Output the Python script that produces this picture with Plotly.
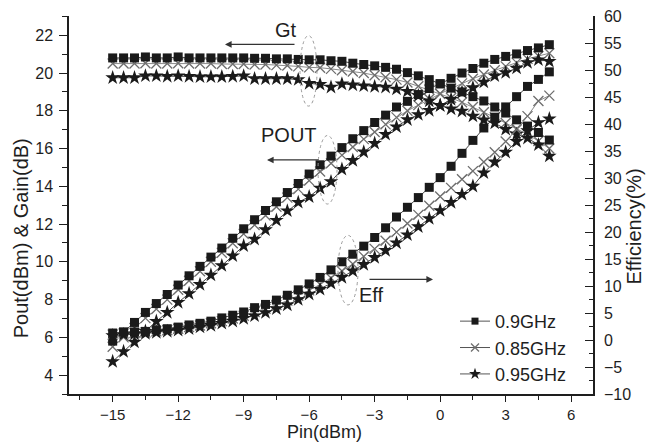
import plotly.graph_objects as go

# Input power sweep (dBm)
pin = [-15.0, -14.5, -14.0, -13.5, -13.0, -12.5, -12.0, -11.5, -11.0, -10.5,
       -10.0, -9.5, -9.0, -8.5, -8.0, -7.5, -7.0, -6.5, -6.0, -5.5,
       -5.0, -4.5, -4.0, -3.5, -3.0, -2.5, -2.0, -1.5, -1.0, -0.5,
       0.0, 0.5, 1.0, 1.5, 2.0, 2.5, 3.0, 3.5, 4.0, 4.5, 5.0]

# Transducer gain Gt (dB)
gt_090 = [20.80, 20.80, 20.80, 20.85, 20.80, 20.80, 20.85, 20.80, 20.80, 20.80,
          20.80, 20.80, 20.80, 20.78, 20.78, 20.75, 20.75, 20.72, 20.70, 20.70,
          20.65, 20.62, 20.52, 20.45, 20.38, 20.30, 20.20, 20.02, 19.85, 19.65,
          19.43, 19.20, 19.00, 18.75, 18.52, 18.20, 17.88, 17.52, 17.19, 16.85, 16.45]
gt_085 = [20.50, 20.50, 20.50, 20.52, 20.50, 20.50, 20.52, 20.50, 20.50, 20.50,
          20.48, 20.48, 20.48, 20.45, 20.45, 20.42, 20.40, 20.35, 20.30, 20.28,
          20.22, 20.15, 20.08, 20.00, 19.88, 19.78, 19.65, 19.50, 19.30, 19.12,
          18.90, 18.68, 18.45, 18.20, 17.92, 17.65, 17.35, 17.05, 16.75, 16.40, 16.00]
gt_095 = [19.75, 19.75, 19.75, 19.85, 19.85, 19.82, 19.85, 19.82, 19.80, 19.80,
          19.80, 19.82, 19.85, 19.70, 19.70, 19.70, 19.70, 19.65, 19.45, 19.40,
          19.25, 19.42, 19.37, 19.32, 19.28, 19.25, 19.15, 19.03, 18.80, 18.52,
          18.28, 18.10, 17.98, 17.72, 17.52, 17.35, 17.02, 16.76, 16.55, 16.20, 15.60]

# Output power POUT (dBm)
pout_090 = [5.80, 6.27, 6.79, 7.32, 7.79, 8.27, 8.77, 9.26, 9.76, 10.25,
            10.73, 11.25, 11.75, 12.23, 12.72, 13.18, 13.67, 14.15, 14.65, 15.14,
            15.60, 16.05, 16.52, 16.95, 17.38, 17.77, 18.20, 18.50, 18.86, 19.18,
            19.43, 19.72, 20.00, 20.24, 20.52, 20.72, 20.88, 21.01, 21.19, 21.33, 21.50]
pout_085 = [5.50, 6.00, 6.50, 7.02, 7.50, 8.00, 8.52, 9.00, 9.50, 10.00,
            10.48, 10.98, 11.48, 11.95, 12.45, 12.92, 13.40, 13.85, 14.30, 14.78,
            15.22, 15.65, 16.08, 16.50, 16.88, 17.28, 17.65, 18.00, 18.30, 18.62,
            18.90, 19.18, 19.45, 19.70, 19.92, 20.15, 20.35, 20.55, 20.75, 20.90, 21.05]
pout_095 = [4.72, 5.25, 5.75, 6.32, 6.85, 7.32, 7.85, 8.32, 8.80, 9.30,
            9.80, 10.32, 10.85, 11.20, 11.70, 12.20, 12.70, 13.15, 13.45, 13.90,
            14.25, 14.90, 15.37, 15.82, 16.28, 16.75, 17.15, 17.53, 17.80, 18.02,
            18.28, 18.60, 18.98, 19.22, 19.52, 19.85, 20.02, 20.26, 20.55, 20.70, 20.62]

# Drain efficiency (%)
eff_090 = [1.3, 1.5, 1.5, 1.6, 1.9, 2.1, 2.4, 2.8, 3.1, 3.5,
           4.1, 4.6, 5.2, 6.0, 6.6, 7.4, 8.3, 9.3, 10.4, 11.6,
           13.0, 14.5, 15.9, 17.4, 19.0, 20.8, 22.8, 24.6, 26.4, 28.3,
           30.1, 32.2, 34.6, 37.0, 39.3, 41.3, 43.2, 45.1, 47.0, 48.3, 49.7]
eff_085 = [1.0, 1.2, 1.3, 1.4, 1.6, 1.8, 2.1, 2.4, 2.7, 3.1,
           3.5, 4.0, 4.5, 5.2, 5.8, 6.5, 7.3, 8.2, 9.2, 10.3,
           11.5, 12.8, 14.1, 15.5, 16.9, 18.4, 20.0, 21.6, 23.2, 24.9,
           26.6, 28.2, 29.8, 31.3, 33.0, 34.8, 36.8, 39.0, 41.5, 44.3, 45.3]
eff_095 = [0.8, 1.0, 1.1, 1.2, 1.4, 1.6, 1.8, 2.1, 2.4, 2.7,
           3.1, 3.5, 4.0, 4.5, 5.1, 5.8, 6.5, 7.5, 8.5, 9.4,
           10.5, 11.6, 12.8, 14.0, 15.3, 16.6, 18.0, 19.5, 21.0, 22.5,
           24.0, 25.5, 27.0, 28.5, 31.0, 33.0, 34.8, 36.8, 38.8, 40.3, 41.0]

series_names = ["0.9GHz", "0.85GHz", "0.95GHz"]

FONT = "Liberation Sans, Arial, sans-serif"
INK = "#1e1e1e"

# canvas / plot-area geometry in pixels
W, H = 657, 444
L, R, T, B = 69, 64, 8, 50
PW, PH = W - L - R, H - T - B


def px_x(x):
    return (x - L) / PW


def px_y(y):
    return (H - B - y) / PH


styles = {
    "0.9GHz": dict(symbol="square", size=9, color="#1a1a1a", line=dict(width=0)),
    "0.85GHz": dict(symbol="x-thin", size=10, color="#6e6e6e",
                    line=dict(width=1.3, color="#6e6e6e")),
    "0.95GHz": dict(symbol="star", size=11, color="#1a1a1a", line=dict(width=0)),
}
legend_size = {"0.9GHz": 7, "0.85GHz": 8, "0.95GHz": 9}
line_col = {"0.9GHz": "#444", "0.85GHz": "#8a8a8a", "0.95GHz": "#444"}
rank = {"0.9GHz": 1, "0.85GHz": 2, "0.95GHz": 3}

groups = {
    "0.85GHz": (gt_085, pout_085, eff_085),
    "0.95GHz": (gt_095, pout_095, eff_095),
    "0.9GHz": (gt_090, pout_090, eff_090),
}

fig = go.Figure()
for name in ["0.85GHz", "0.95GHz", "0.9GHz"]:
    gt, pout, eff = groups[name]
    for vals, axis in [(gt, "y"), (pout, "y"), (eff, "y2")]:
        fig.add_trace(go.Scatter(
            x=pin, y=vals, yaxis=axis, mode="lines+markers",
            name=name, legendgroup=name, showlegend=False,
            marker=styles[name],
            line=dict(color=line_col[name], width=1),
        ))

# legend keys use a smaller marker than the plotted points
for name in series_names:
    key_marker = dict(styles[name])
    key_marker["size"] = legend_size[name]
    fig.add_trace(go.Scatter(
        x=[None], y=[None], mode="lines+markers", name=name,
        legendgroup=name, legendrank=rank[name], showlegend=True,
        marker=key_marker, line=dict(color="#555", width=1),
    ))

axis_common = dict(
    showgrid=False, zeroline=False, showline=True, linecolor=INK, linewidth=1.5,
    tickcolor=INK, tickwidth=1.3, ticklen=8,
    tickfont=dict(family=FONT, size=16, color=INK),
)
x_axis_style = dict(axis_common, ticklen=6,
                    tickfont=dict(family=FONT, size=15, color=INK))

fig.update_layout(
    width=W, height=H,
    margin=dict(l=L, r=R, t=T, b=B),
    paper_bgcolor="white", plot_bgcolor="white",
    font=dict(family=FONT, color=INK),
    xaxis=dict(range=[-17, 7], tick0=-15, dtick=3, ticks="outside",
               minor=dict(dtick=1.5, ticks="outside", ticklen=4, tickcolor=INK),
               **x_axis_style),
    yaxis=dict(range=[3, 23.02], tick0=4, dtick=2, ticks="outside",
               ticklabelstandoff=3,
               minor=dict(dtick=1, ticks="outside", ticklen=5, tickcolor=INK),
               **axis_common),
    yaxis2=dict(range=[-10, 60.05], tick0=0, dtick=5, ticks="inside",
                overlaying="y", side="right", anchor="x",
                ticklabelstandoff=6, ticklabeloverflow="allow",
                minor=dict(dtick=2.5, ticks="inside", ticklen=4, tickcolor=INK),
                **axis_common),
    legend=dict(x=px_x(455), y=px_y(301), xanchor="left", yanchor="top",
                bgcolor="rgba(0,0,0,0)", borderwidth=0,
                font=dict(family=FONT, size=18, color=INK),
                tracegroupgap=0, itemsizing="trace"),
    showlegend=True,
)

# axis titles
title_font = dict(family=FONT, size=20, color=INK)
fig.add_annotation(text="Pin(dBm)", xref="paper", yref="paper",
                   x=px_x(324), y=px_y(444), showarrow=False,
                   font=dict(family=FONT, size=18, color=INK),
                   xanchor="center", yanchor="bottom", borderpad=0)
fig.add_annotation(text="Pout(dBm) & Gain(dB)", xref="paper", yref="paper",
                   x=px_x(21), y=px_y(235), showarrow=False, font=title_font,
                   textangle=-90, xanchor="center", yanchor="middle")
fig.add_annotation(text="Efficiency(%)", xref="paper", yref="paper",
                   x=px_x(634), y=px_y(223), showarrow=False, font=title_font,
                   textangle=-90, xanchor="center", yanchor="middle")

# curve-family labels
label_font = dict(family=FONT, size=20, color=INK)
for txt, cx, cy in [("Gt", 286, 22), ("POUT", 289, 130), ("Eff", 371, 293)]:
    fig.add_annotation(text=txt, xref="paper", yref="paper", x=px_x(cx), y=px_y(cy),
                       showarrow=False, font=label_font,
                       xanchor="center", yanchor="middle")

# arrows pointing to the relevant axis
for (hx, hy, tx, ty) in [(225, 37, 296, 37), (267, 155, 320, 155), (433, 277, 368, 277)]:
    fig.add_annotation(text="", xref="paper", yref="paper",
                       x=px_x(hx), y=px_y(hy), ax=tx - hx, ay=ty - hy,
                       axref="pixel", ayref="pixel",
                       showarrow=True, arrowhead=2, arrowsize=1.1, arrowwidth=1.2,
                       arrowcolor="#333", standoff=0, startstandoff=0)

# dotted ellipses grouping each curve family
for (x0, y0, x1, y1) in [(300, 28, 317, 100), (318, 130, 337, 200), (338, 232, 358, 303)]:
    fig.add_shape(type="circle", xref="paper", yref="paper",
                  x0=px_x(x0), x1=px_x(x1), y0=px_y(y1), y1=px_y(y0),
                  line=dict(color="#9a9a9a", width=1, dash="dot"))

fig.write_html("out.html")
